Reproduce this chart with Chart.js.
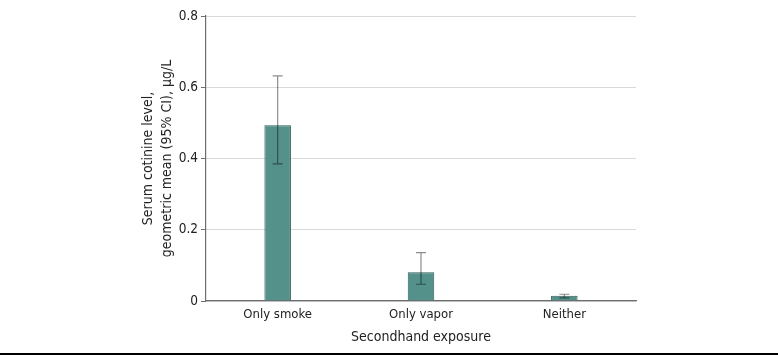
<!DOCTYPE html>
<html><head><meta charset="utf-8">
<script src="https://cdn.jsdelivr.net/npm/chart.js@4.4.1/dist/chart.umd.min.js"></script>
<style>
html,body{margin:0;padding:0;background:#fff;}
#wrap{position:relative;width:778px;height:356px;}
</style></head>
<body><div id="wrap"><canvas id="c" width="778" height="356"></canvas></div>
<script>
const categories = ["Only smoke", "Only vapor", "Neither"];
const geoMean = [0.493, 0.081, 0.015];
const ciLower = [0.385, 0.047, 0.009];
const ciUpper = [0.632, 0.136, 0.019];
const yTicks = [0, 0.2, 0.4, 0.6, 0.8];

const FONT = "'DejaVu Sans Condensed', 'DejaVu Sans', sans-serif";

const errorBars = {
  id: 'errorBars',
  afterDatasetsDraw(chart) {
    const ctx = chart.ctx;
    const meta = chart.getDatasetMeta(0);
    const y = chart.scales.y;
    ctx.save();
    ctx.strokeStyle = 'rgba(0,0,0,0.45)';
    ctx.lineWidth = 1.2;
    meta.data.forEach((bar, i) => {
      const x = bar.x;
      const yl = y.getPixelForValue(ciLower[i]);
      const yu = y.getPixelForValue(ciUpper[i]);
      ctx.beginPath();
      ctx.moveTo(x, yl); ctx.lineTo(x, yu);
      ctx.moveTo(x - 5, yu); ctx.lineTo(x + 5, yu);
      ctx.moveTo(x - 5, yl); ctx.lineTo(x + 5, yl);
      ctx.stroke();
    });
    ctx.restore();
  },
  afterDraw(chart) {
    const ctx = chart.ctx;
    ctx.save();
    ctx.strokeStyle = '#000';
    ctx.lineWidth = 2;
    ctx.beginPath();
    ctx.moveTo(0, 354); ctx.lineTo(778, 354);
    ctx.stroke();
    ctx.restore();
  }
};

new Chart(document.getElementById('c'), {
  type: 'bar',
  data: {
    labels: categories,
    datasets: [{
      data: geoMean,
      backgroundColor: '#54918a',
      borderColor: '#2f5c57',
      borderWidth: 1,
      barPercentage: 0.185,
      categoryPercentage: 1
    }]
  },
  options: {
    responsive: false,
    animation: false,
    devicePixelRatio: 1,
    layout: { padding: { top: 16, right: 142, bottom: 6, left: 139 } },
    plugins: { legend: { display: false }, tooltip: { enabled: false } },
    scales: {
      x: {
        grid: { display: false, drawTicks: false },
        border: { color: '#6e6e6e', width: 1.2 },
        ticks: { color: '#222', font: { family: FONT, size: 13 }, padding: 6 },
        title: { display: true, text: 'Secondhand exposure', color: '#222',
                 font: { family: FONT, size: 14 }, padding: { top: 2 } },
        afterFit(s) { s.height = 49; }
      },
      y: {
        min: 0, max: 0.8,
        afterBuildTicks(s) { s.ticks = yTicks.map(v => ({ value: v })); },
        grid: { color: '#d9d9d9', lineWidth: 1, tickLength: 5, tickColor: '#6e6e6e' },
        border: { color: '#6e6e6e', width: 1.2 },
        ticks: { color: '#222', font: { family: FONT, size: 13.5 }, padding: 3,
                 callback: v => v === 0 ? '0' : v.toFixed(1) },
        title: { display: true, text: ['Serum cotinine level,', 'geometric mean (95% CI), µg/L'],
                 color: '#222', font: { family: FONT, size: 14, lineHeight: 1.35 }, padding: 0 },
        afterFit(s) { s.width = 67; }
      }
    }
  },
  plugins: [errorBars]
});
</script></body></html>
